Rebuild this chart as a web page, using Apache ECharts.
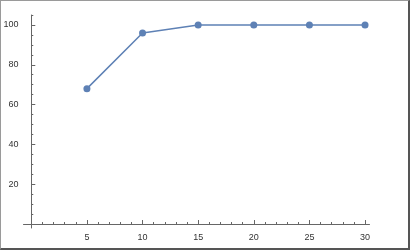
<!DOCTYPE html>
<html>
<head>
<meta charset="utf-8">
<script src="https://cdn.jsdelivr.net/npm/echarts@6/dist/echarts.min.js"></script>
<style>
html,body{margin:0;padding:0;background:#fff;}
#chart{position:absolute;left:0;top:0;width:410px;height:250px;}
#frame{position:absolute;left:0;top:0;width:410px;height:250px;box-sizing:border-box;
  border-left:1px solid #9a9a9a;border-top:1px solid #9a9a9a;border-right:2px solid #555;border-bottom:2px solid #555;pointer-events:none;}
</style>
</head>
<body>
<div id="chart"></div>
<div id="frame"></div>
<script>
const xValues = [5, 10, 15, 20, 25, 30];
const yValues = [68, 96, 100, 100, 100, 100];
const xMajorTicks = [5, 10, 15, 20, 25, 30];
const xMinorTicks = [1,2,3,4,6,7,8,9,11,12,13,14,16,17,18,19,21,22,23,24,26,27,28,29];
const yMajorTicks = [20, 40, 60, 80, 100];
const yMinorTicks = [5,10,15,25,30,35,45,50,55,65,70,75,85,90,95,105];

const axisColor = '#666';
const labelStyle = {color: '#333', fontSize: 9, fontFamily: 'Liberation Sans, Arial, sans-serif'};
const X_MIN = -0.7, X_MAX = 30.4, Y_MIN = -2, Y_MAX = 105;

const chart = echarts.init(document.getElementById('chart'), null, {renderer: 'canvas'});
chart.setOption({
  animation: false,
  grid: {left: 23.5, right: 40.5, top: 15, bottom: 22},
  xAxis: [
    {type: 'value', min: X_MIN, max: X_MAX, position: 'bottom',
     axisLine: {show: true, onZero: true, onZeroAxisIndex: 0, lineStyle: {color: axisColor, width: 1}},
     axisTick: {show: true, inside: true, length: 4, customValues: xMajorTicks, lineStyle: {color: axisColor}},
     axisLabel: Object.assign({show: true, margin: 5, customValues: xMajorTicks}, labelStyle),
     splitLine: {show: false}},
    {type: 'value', min: X_MIN, max: X_MAX, position: 'bottom',
     axisLine: {show: false, onZero: true, onZeroAxisIndex: 1},
     axisTick: {show: true, inside: true, length: 2, customValues: xMinorTicks, lineStyle: {color: axisColor}},
     axisLabel: {show: false},
     splitLine: {show: false}}
  ],
  yAxis: [
    {type: 'value', min: Y_MIN, max: Y_MAX, position: 'left',
     axisLine: {show: true, onZero: true, onZeroAxisIndex: 0, lineStyle: {color: axisColor, width: 1}},
     axisTick: {show: true, inside: true, length: 4, customValues: yMajorTicks, lineStyle: {color: axisColor}},
     axisLabel: Object.assign({show: true, margin: 5, customValues: yMajorTicks}, labelStyle),
     splitLine: {show: false}},
    {type: 'value', min: Y_MIN, max: Y_MAX, position: 'left',
     axisLine: {show: false, onZero: true, onZeroAxisIndex: 1},
     axisTick: {show: true, inside: true, length: 2, customValues: yMinorTicks, lineStyle: {color: axisColor}},
     axisLabel: {show: false},
     splitLine: {show: false}}
  ],
  series: [{
    type: 'line',
    xAxisIndex: 0, yAxisIndex: 0,
    data: xValues.map((x, i) => [x, yValues[i]]),
    symbol: 'circle', symbolSize: 7,
    lineStyle: {color: '#5E81B5', width: 1.5},
    itemStyle: {color: '#5E81B5'}
  }]
});
</script>
</body>
</html>
